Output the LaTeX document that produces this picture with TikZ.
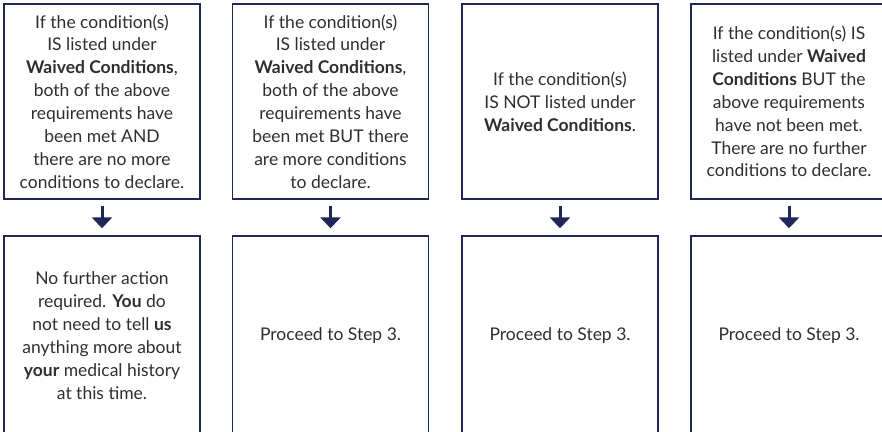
\documentclass[tikz,border=0pt]{standalone}
\usepackage{fontspec}
\setmainfont{Lato}
\usetikzlibrary{arrows.meta}
\definecolor{navy}{HTML}{1E2756}
\definecolor{txt}{HTML}{2E2E2E}
\tikzset{
  box/.style={draw=navy, line width=1.4pt, minimum width=196pt, inner sep=0pt,
    align=center, text=txt, font=\fontsize{17.5}{22.9}\selectfont},
  topbox/.style={box, minimum height=195pt},
  botbox/.style={box, minimum height=199pt},
  flow/.style={draw=navy, line width=3pt, shorten <=6pt, shorten >=7pt,
    -{Triangle[width=20pt,length=11pt]}, navy}
}
\begin{document}
\begin{tikzpicture}[x=1pt,y=-1pt]
\useasboundingbox (0,0) rectangle (882,431);
\clip (0,0) rectangle (882,431);
\node[topbox] (t1) at (102,101.5) {If the condition(s)\\IS listed under\\\textbf{Waived Conditions},\\both of the above\\requirements have\\been met AND\\there are no more\\conditions to declare.};
\node[topbox] (t2) at (330.5,101.5) {If the condition(s)\\IS listed under\\\textbf{Waived Conditions},\\both of the above\\requirements have\\been met BUT there\\are more conditions\\to declare.};
\node[topbox] (t3) at (560,101.5) {If the condition(s)\\IS NOT listed under\\\textbf{Waived Conditions}.};
\node[topbox] (t4) at (789,101.5) {If the condition(s) IS\\listed under \textbf{Waived}\\\textbf{Conditions} BUT the\\above requirements\\have not been met.\\There are no further\\conditions to declare.};
\node[botbox] (b1) at (102,335.5) {No further action\\required. \textbf{You} do\\not need to tell \textbf{us}\\anything more about\\\textbf{your} medical history\\at this time.};
\node[botbox] (b2) at (330.5,335.5) {Proceed to Step 3.};
\node[botbox] (b3) at (560,335.5) {Proceed to Step 3.};
\node[botbox] (b4) at (789,335.5) {Proceed to Step 3.};
\foreach \i in {1,2,3,4} \draw[flow] (t\i.south) -- (b\i.north);
\end{tikzpicture}
\end{document}
